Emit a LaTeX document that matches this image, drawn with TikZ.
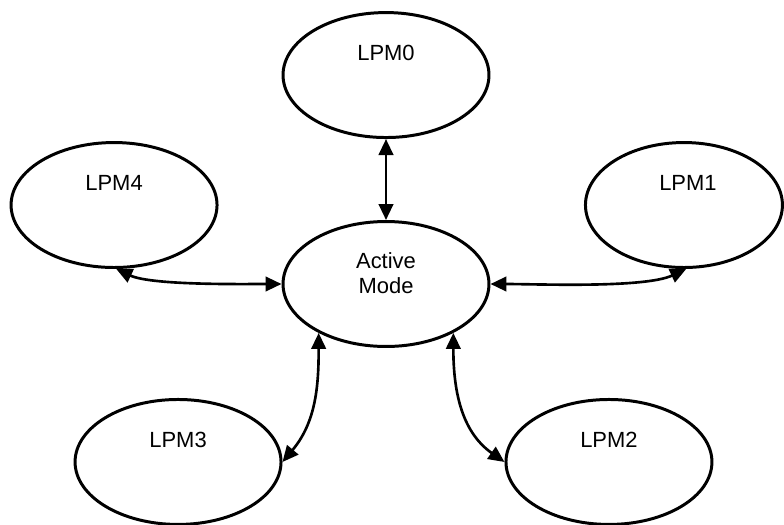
\documentclass[tikz,border=0pt]{standalone}
\usepackage{fontspec}
\setmainfont{Liberation Sans}
\usepackage{tikz}
\usetikzlibrary{shapes.geometric, arrows.meta, positioning, calc}

\begin{document}
\begin{tikzpicture}[
        x=0.02cm, y=-0.02cm,
        font=\fontsize{12.5}{14}\selectfont,
        lpm_state/.style = {ellipse, draw=black, line width=1.7pt, minimum width=4.12cm, minimum height=2.5cm},
        state_text/.style = {align=center, text=black},
        link/.style = {draw, line width=1.5pt, {Triangle[length=0.32cm, width=0.29cm]}-{Triangle[length=0.32cm, width=0.29cm]}}
    ]
    \useasboundingbox (0,0) rectangle (784,524);

    % Active mode (center)
    \node [lpm_state] at (386,284) (active) {};
    \node [state_text] at ([yshift=0.22cm]active.center) (active_text) {Active\\Mode};

    % Low power modes
    \node [lpm_state, yshift=4.18cm] at (active.center) (lpm0) {};
    \node [lpm_state, minimum width=3.94cm, xshift=5.96cm, yshift=1.58cm] at (active.center) (lpm1) {};
    \node [lpm_state, xshift=4.46cm, yshift=-3.56cm] at (active.center) (lpm2) {};
    \node [lpm_state, xshift=-4.16cm, yshift=-3.56cm] at (active.center) (lpm3) {};
    \node [lpm_state, xshift=-5.44cm, yshift=1.58cm] at (active.center) (lpm4) {};

    \node [state_text] at ([yshift=0.44cm]lpm0.center) (lpm0_text) {LPM0};
    \node [state_text] at ([yshift=0.44cm, xshift=0.08cm]lpm1.center) (lpm1_text) {LPM1};
    \node [state_text] at ([yshift=0.44cm]lpm2.center) (lpm2_text) {LPM2};
    \node [state_text] at ([yshift=0.44cm]lpm3.center) (lpm3_text) {LPM3};
    \node [state_text] at ([yshift=0.44cm]lpm4.center) (lpm4_text) {LPM4};

    % Transitions
    \draw [link] (lpm0.south) -- (active.north);
    \draw [link] (active.east) to[out=0, in=-155, looseness=0.6] (lpm1.-88);
    \draw [link] (active.-36) to[out=-90, in=145] (lpm2.west);
    \draw [link] (active.216) to[out=-90, in=50] (lpm3.east);
    \draw [link] (lpm4.-88) to[out=-25, in=180, looseness=0.6] (active.west);

\end{tikzpicture}
\end{document}
